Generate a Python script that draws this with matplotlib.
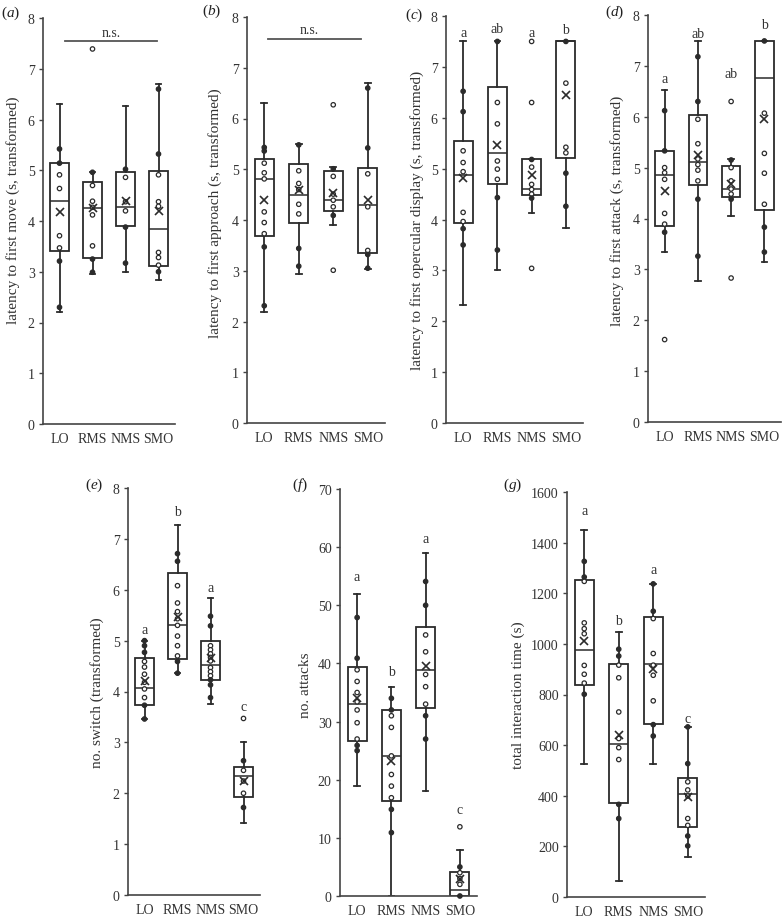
import matplotlib.pyplot as plt
import matplotlib as mpl
import numpy as np

W, H = 782, 920
GROUPS = ["LO", "RMS", "NMS", "SMO"]

# (a) latency to first move
a_points = [
    [5.42, 5.14, 4.91, 4.64, 3.71, 3.47, 3.21, 2.30],
    [7.39, 4.96, 4.70, 4.39, 4.27, 4.12, 3.51, 3.25, 2.99],
    [5.02, 4.86, 4.38, 4.20, 3.88, 3.17],
    [6.60, 5.32, 4.91, 4.38, 4.29, 3.38, 3.28, 3.13, 3.00],
]
a_q1 = [3.40, 3.28, 3.91, 3.11]
a_med = [4.40, 4.25, 4.28, 3.84]
a_q3 = [5.14, 4.76, 4.97, 4.99]
a_lo = [2.20, 2.96, 3.00, 2.84]
a_hi = [6.31, 4.96, 6.26, 6.70]
a_mean = [4.18, 4.25, 4.40, 4.20]

# (b) latency to first approach
b_points = [
    [5.43, 5.36, 5.12, 4.93, 4.81, 4.16, 3.95, 3.73, 3.47, 2.31],
    [5.48, 4.97, 4.72, 4.60, 4.31, 4.12, 3.44, 3.09],
    [6.27, 5.01, 4.86, 4.51, 4.39, 4.26, 4.09, 3.01],
    [6.60, 5.42, 4.91, 4.26, 3.40, 3.32, 3.05],
]
b_q1 = [3.68, 3.95, 4.18, 3.34]
b_med = [4.81, 4.50, 4.39, 4.29]
b_q3 = [5.20, 5.10, 4.97, 5.03]
b_lo = [2.19, 2.94, 3.91, 3.04]
b_hi = [6.31, 5.49, 5.04, 6.70]
b_mean = [4.40, 4.60, 4.53, 4.40]

# (c) latency to first opercular display
c_points = [
    [6.52, 6.12, 5.35, 5.12, 4.94, 4.14, 3.96, 3.82, 3.50],
    [7.50, 6.30, 5.88, 5.15, 4.99, 4.79, 4.43, 3.40],
    [7.50, 6.30, 5.18, 5.03, 4.69, 4.59, 4.50, 4.42, 3.04],
    [7.50, 6.68, 5.42, 5.31, 4.91, 4.26],
]
c_q1 = [3.94, 4.69, 4.48, 5.20]
c_med = [4.87, 5.31, 4.60, 7.50]
c_q3 = [5.54, 6.60, 5.18, 7.50]
c_lo = [2.31, 3.00, 4.12, 3.83]
c_hi = [7.50, 7.50, 5.18, 7.50]
c_mean = [4.81, 5.46, 4.87, 6.45]

# (d) latency to first attack
d_points = [
    [6.12, 5.33, 5.00, 4.90, 4.77, 4.10, 3.89, 3.73, 1.62],
    [7.18, 6.30, 5.95, 5.47, 5.17, 5.06, 4.95, 4.74, 4.38, 3.26],
    [6.30, 5.15, 5.00, 4.74, 4.58, 4.48, 4.38, 2.83],
    [7.49, 6.07, 5.28, 4.89, 4.28, 3.83, 3.34],
]
d_q1 = [3.85, 4.66, 4.43, 4.17]
d_med = [4.85, 5.11, 4.58, 6.77]
d_q3 = [5.33, 6.04, 5.04, 7.49]
d_lo = [3.34, 2.78, 4.04, 3.14]
d_hi = [6.53, 7.48, 5.17, 7.49]
d_mean = [4.55, 5.25, 4.68, 5.95]

# (e) no. switch
e_points = [
    [5.00, 4.90, 4.77, 4.59, 4.48, 4.34, 4.18, 4.05, 3.88, 3.73, 3.46],
    [6.71, 6.56, 6.08, 5.74, 5.57, 5.43, 5.30, 5.09, 4.90, 4.70, 4.59, 4.36],
    [5.48, 5.29, 4.90, 4.82, 4.74, 4.67, 4.60, 4.47, 4.39, 4.31, 4.23, 4.13, 3.88],
    [3.47, 2.64, 2.45, 2.24, 2.00, 1.72],
]
e_q1 = [3.74, 4.64, 4.23, 1.93]
e_med = [4.06, 5.30, 4.52, 2.34]
e_q3 = [4.66, 6.33, 5.00, 2.51]
e_lo = [3.46, 4.36, 3.75, 1.41]
e_hi = [5.00, 7.28, 5.83, 3.00]
e_mean = [4.20, 5.46, 4.66, 2.24]

# (f) no. attacks
f_points = [
    [47.9, 40.9, 38.9, 36.9, 35.0, 33.4, 32.0, 29.8, 27.0, 25.9, 25.0],
    [34.0, 32.0, 31.0, 29.0, 24.1, 20.9, 18.9, 16.9, 14.9, 10.9],
    [54.1, 50.0, 44.9, 42.0, 38.1, 36.0, 33.0, 31.0, 27.0],
    [11.9, 5.0, 4.0, 3.0, 2.0, 0.0],
]
f_q1 = [26.7, 16.4, 32.4, 0.0]
f_med = [33.0, 24.0, 38.9, 1.0]
f_q3 = [39.4, 32.0, 46.3, 4.2]
f_lo = [18.9, 0.0, 18.0, 0.0]
f_hi = [51.9, 36.0, 59.0, 7.9]
f_mean = [34.1, 23.2, 39.6, 2.9]

# (g) total interaction time
g_points = [
    [1326, 1264, 1247, 1083, 1060, 1040, 915, 880, 845, 801],
    [979, 952, 916, 866, 731, 626, 590, 543, 366, 310],
    [1237, 1129, 1100, 962, 916, 876, 775, 681, 636],
    [672, 527, 455, 423, 399, 310, 283, 241, 202],
]
g_q1 = [836, 373, 685, 277]
g_med = [977, 606, 922, 406]
g_q3 = [1251, 922, 1107, 472]
g_lo = [524, 62, 524, 158]
g_hi = [1451, 1047, 1237, 672]
g_mean = [1010, 639, 902, 395]

letters_cdefg = {
    "c": (["a", "ab", "a", "b"], [7.67, 7.75, 7.67, 7.73]),
    "d": (["a", "ab", "ab", "b"], [6.76, 7.63, 6.85, 7.82]),
    "e": (["a", "b", "a", "c"], [5.21, 7.53, 6.04, 3.71]),
    "f": (["a", "b", "a", "c"], [54.9, 38.6, 61.5, 14.9]),
    "g": (["a", "b", "a", "c"], [1528, 1091, 1294, 705]),
}

ylabels = {
    "a": "latency to first move (s, transformed)",
    "b": "latency to first approach (s, transformed)",
    "c": "latency to first opercular display (s, transformed)",
    "d": "latency to first attack (s, transformed)",
    "e": "no. switch (transformed)",
    "f": "no. attacks",
    "g": "total interaction time (s)",
}

# axes boxes in pixels: left, right, y of zero, y of top
boxes_px = {
    "a": (43, 175, 425, 19),
    "b": (247, 385, 424, 18),
    "c": (446, 583, 424, 17),
    "d": (648, 781, 423, 16),
    "e": (128, 260, 896, 489),
    "f": (340, 477, 897, 490),
    "g": (567, 705, 898, 493),
}
ylims = {"a": 8, "b": 8, "c": 8, "d": 8, "e": 8, "f": 70, "g": 1600}
yticks = {k: (np.arange(0, 9, 1) if v == 8 else
              (np.arange(0, 71, 10) if v == 70 else np.arange(0, 1601, 200)))
          for k, v in ylims.items()}
# right edge of the (rotated) y label, in pixels
ylabel_x = {"a": 20, "b": 222, "c": 424, "d": 624, "e": 104, "f": 312, "g": 525}
ylabel_y = {"a": 0.53, "b": 0.52, "c": 0.5, "d": 0.52, "e": 0.5, "f": 0.52, "g": 0.5}
panel_pos = {"a": (1, 13), "b": (202, 11), "c": (405, 15), "d": (605, 12),
             "e": (85, 485), "f": (292, 485), "g": (503, 485)}

LINE = "#2b2b2b"
plt.rcParams["font.family"] = "Liberation Serif"
plt.rcParams["mathtext.fontset"] = "custom"
plt.rcParams["mathtext.rm"] = "Liberation Serif"
plt.rcParams["mathtext.it"] = "Liberation Serif:italic"

data = {
    "a": (a_points, a_q1, a_med, a_q3, a_lo, a_hi, a_mean),
    "b": (b_points, b_q1, b_med, b_q3, b_lo, b_hi, b_mean),
    "c": (c_points, c_q1, c_med, c_q3, c_lo, c_hi, c_mean),
    "d": (d_points, d_q1, d_med, d_q3, d_lo, d_hi, d_mean),
    "e": (e_points, e_q1, e_med, e_q3, e_lo, e_hi, e_mean),
    "f": (f_points, f_q1, f_med, f_q3, f_lo, f_hi, f_mean),
    "g": (g_points, g_q1, g_med, g_q3, g_lo, g_hi, g_mean),
}

fig = plt.figure(figsize=(W / 100, H / 100), dpi=100)

for key, (points, q1, med, q3, lo, hi, mean) in data.items():
    left, right, y0, ytop = boxes_px[key]
    ax = fig.add_axes([left / W, (H - y0) / H, (right - left) / W, (y0 - ytop) / H])
    top = ylims[key]
    pos = np.arange(1, 5)

    stats = [dict(q1=q1[i], med=med[i], q3=q3[i], whislo=lo[i], whishi=hi[i],
                  mean=mean[i], fliers=[]) for i in range(4)]
    ax.bxp(stats, positions=pos, widths=0.55, capwidths=0.16, showmeans=True,
           patch_artist=True,
           boxprops=dict(facecolor="white", edgecolor=LINE, linewidth=1.3),
           medianprops=dict(color=LINE, linewidth=1.1),
           whiskerprops=dict(color=LINE, linewidth=1.3),
           capprops=dict(color=LINE, linewidth=1.3),
           meanprops=dict(marker="x", markeredgecolor=LINE, markersize=6,
                          markeredgewidth=1.2, zorder=6))

    # individual fish
    tol = 0.002 * top
    for i in range(4):
        v = np.array(points[i])
        on_whisker = ((v > q3[i] - tol) | (v < q1[i] + tol)) & (v >= lo[i] - tol) & (v <= hi[i] + tol)
        face = np.where(on_whisker, LINE, "white")
        ax.scatter(np.full(len(v), pos[i]), v, s=10, facecolors=face,
                   edgecolors=LINE, linewidths=0.9, zorder=5, clip_on=False)

    ax.set_xlim(0.5, 4.5)
    ax.set_ylim(0, top)
    ax.set_yticks(yticks[key])
    ax.set_xticks(pos)
    ax.set_xticklabels(GROUPS)
    for s in ["top", "right"]:
        ax.spines[s].set_visible(False)
    for s in ["left", "bottom"]:
        ax.spines[s].set_color("#444444")
        ax.spines[s].set_linewidth(1.2)
    ax.tick_params(axis="y", direction="out", length=3, width=1, color="#444444",
                   labelsize=10, pad=3, labelcolor="#333333")
    ax.tick_params(axis="x", length=0, labelsize=10, pad=6, labelcolor="#333333")
    ax.patch.set_visible(False)

    ax.set_ylabel(ylabels[key], fontsize=11, color="#333333")
    ax.yaxis.set_label_coords(-(left - ylabel_x[key]) / (right - left), ylabel_y[key])

    if key in letters_cdefg:
        labs, ys = letters_cdefg[key]
        for i in range(4):
            ax.text(pos[i], ys[i], labs[i], ha="center", va="center", fontsize=10,
                    color="#333333")

    px, py = panel_pos[key]
    fig.text(px / W, 1 - py / H, f"($\\mathit{{{key}}}$)", ha="left", va="center",
             fontsize=11, color="#222222")

# n.s. bars on (a) and (b)
ns_specs = [("a", 1.17, 3.95, 7.55, 2.56, 7.72), ("b", 1.11, 3.80, 7.57, 2.30, 7.75)]
for key, x1, x2, yl, xt, yt in ns_specs:
    ax = fig.axes["abcdefg".index(key)]
    ax.plot([x1, x2], [yl, yl], color="#555555", linewidth=1.3)
    ax.text(xt, yt, "n.s.", ha="center", va="center", fontsize=10, color="#333333")

fig.savefig("out.png", dpi=100)
